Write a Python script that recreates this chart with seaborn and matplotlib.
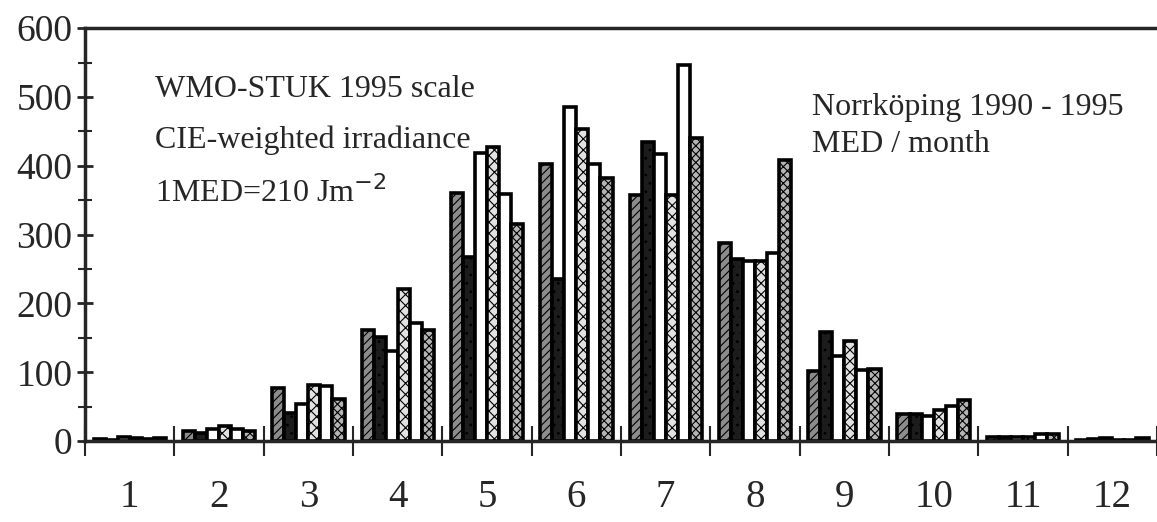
import matplotlib
matplotlib.use("Agg")
import matplotlib.pyplot as plt
import seaborn as sns
import pandas as pd
import numpy as np

months = [1, 2, 3, 4, 5, 6, 7, 8, 9, 10, 11, 12]
years = [1990, 1991, 1992, 1993, 1994, 1995]

# MED / month, one list per year
y1990 = [3, 14, 77, 162, 361, 403, 357, 288, 102, 40, 6, 2]
y1991 = [2, 12, 41, 151, 268, 235, 435, 265, 159, 39, 6, 3]
y1992 = [6, 17, 54, 131, 418, 485, 417, 262, 124, 37, 6, 4]
y1993 = [5, 22, 81, 221, 428, 454, 358, 261, 146, 45, 6, 2]
y1994 = [3, 17, 80, 172, 359, 403, 547, 273, 104, 51, 10, 2]
y1995 = [5, 14, 61, 162, 315, 382, 440, 408, 105, 59, 11, 4]

series = [y1990, y1991, y1992, y1993, y1994, y1995]
df = pd.DataFrame({
    "month": np.repeat([months], len(years), axis=0).ravel(),
    "year": np.repeat(years, len(months)),
    "med": np.concatenate(series),
})

sns.set_style("ticks")
plt.rcParams["font.family"] = ["Liberation Serif", "DejaVu Serif"]
plt.rcParams["hatch.linewidth"] = 0.8

fig = plt.figure(figsize=(11.57, 5.22), dpi=100)
ax = fig.add_axes([0.0735, 0.155, 0.9265, 0.791])

faces = ["#8c8c8c", "#1c1c1c", "white", "#e2e2e2", "white", "#b4b4b4"]
sns.barplot(data=df, x="month", y="med", hue="year", palette=faces,
            edgecolor="black", linewidth=2.6, width=0.81, gap=0,
            legend=False, ax=ax, saturation=1)

hatches = ["////", "..", None, "xxx", None, "xxxx"]
for cont, h in zip(ax.containers, hatches):
    for bar in cont:
        if h:
            bar.set_hatch(h)

ax.set_xlim(-0.5, 11.5)
ax.set_ylim(0, 600)
ax.set_xlabel("")
ax.set_ylabel("")

# y ticks
ax.set_yticks(range(0, 601, 100))
ax.set_yticks(range(50, 600, 100), minor=True)
ax.tick_params(axis="y", which="major", direction="inout", length=12, width=2,
               labelsize=27, pad=3)
ax.tick_params(axis="y", which="minor", direction="inout", length=10, width=1.5)

# x ticks: marks at month boundaries, labels at centres
ax.set_xticks(np.arange(-0.5, 11.6, 1.0))
ax.set_xticklabels([])
ax.set_xticks(np.arange(0, 12), minor=True)
ax.set_xticklabels([str(m) for m in months], minor=True)
ax.tick_params(axis="x", which="major", direction="inout", length=22, width=1.5)
ax.tick_params(axis="x", which="minor", length=0, labelsize=28, pad=27)

for s in ["left", "bottom", "top"]:
    ax.spines[s].set_linewidth(2.5)
ax.spines["right"].set_visible(False)

kw = dict(transform=ax.transAxes, fontsize=23, va="baseline", ha="left")
ax.text(0.065, 0.833, "WMO-STUK 1995 scale", **kw)
ax.text(0.065, 0.711, "CIE-weighted irradiance", **kw)
ax.text(0.065, 0.578, r"1MED=210 Jm$^{-2}$", **kw)
ax.text(0.678, 0.789, "Norrköping 1990 - 1995", **kw)
ax.text(0.678, 0.699, "MED / month", **kw)

fig.savefig("out.png", dpi=100)
